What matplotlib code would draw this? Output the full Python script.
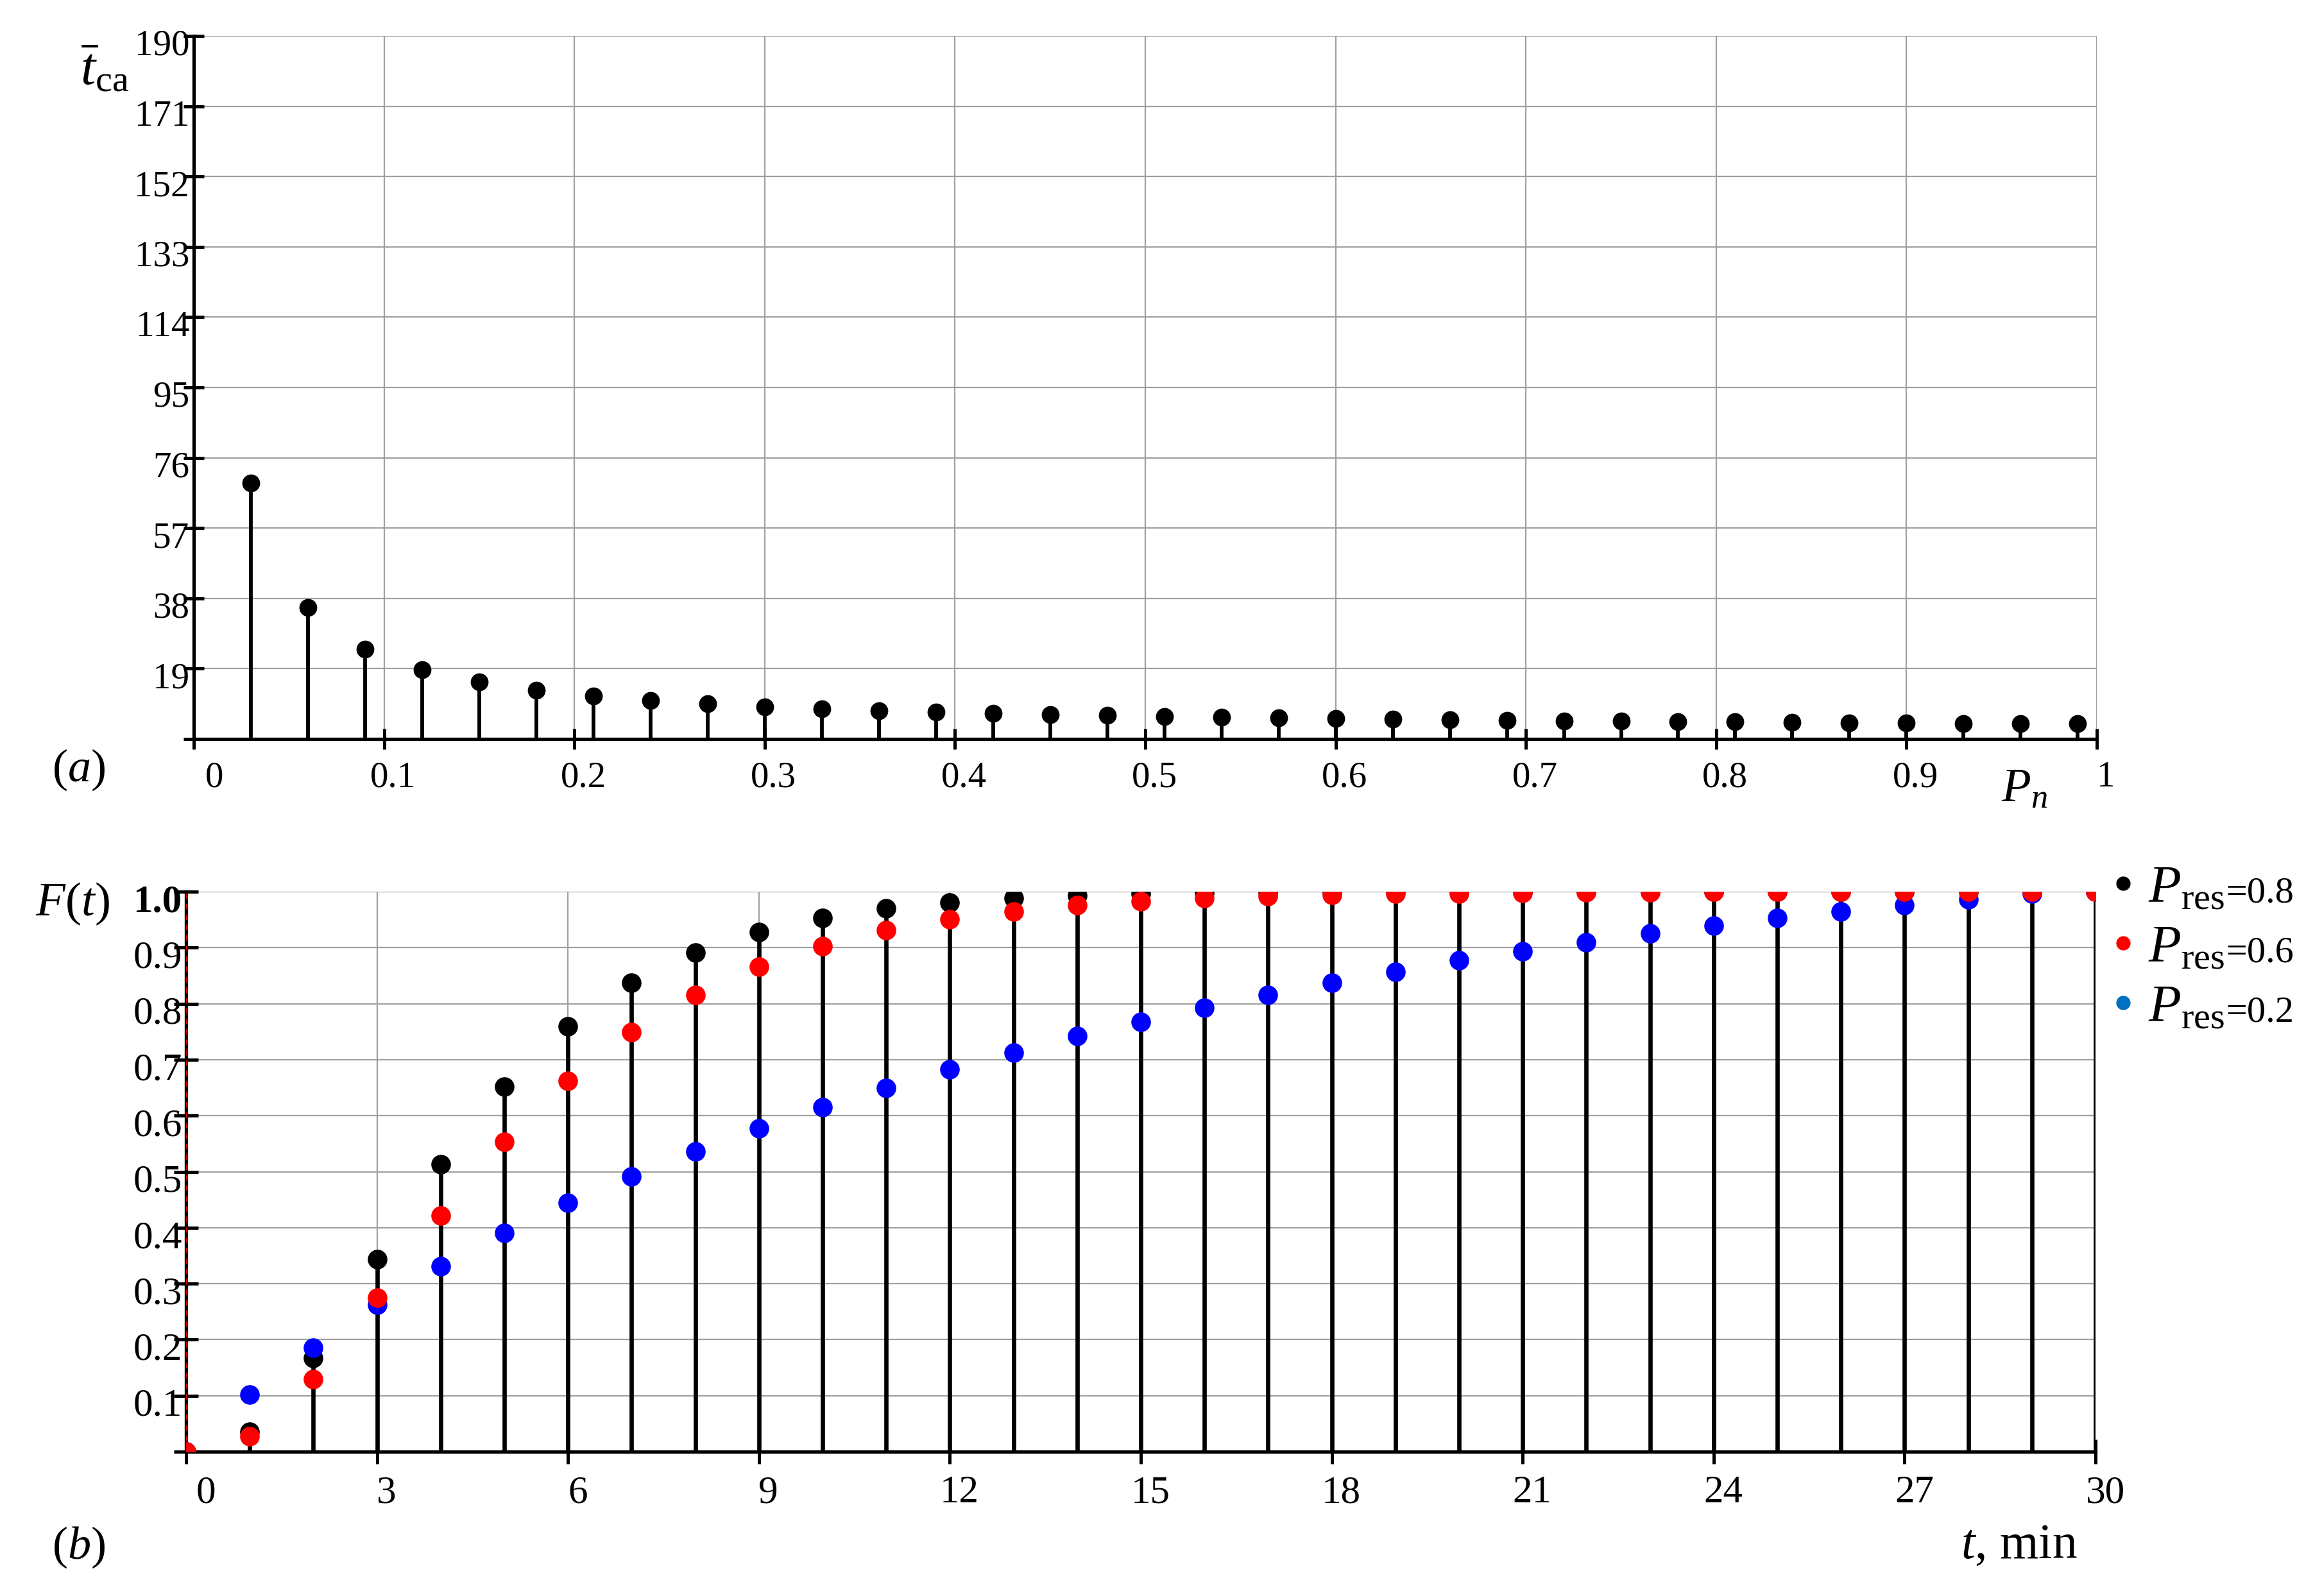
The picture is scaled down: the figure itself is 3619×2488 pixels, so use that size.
import matplotlib
matplotlib.use('Agg')
import matplotlib.pyplot as plt
import matplotlib.transforms as mtransforms
from matplotlib.lines import Line2D

plt.rcParams['font.family'] = ['Liberation Serif', 'DejaVu Serif']
plt.rcParams['mathtext.fontset'] = 'custom'
plt.rcParams['mathtext.rm'] = 'Liberation Serif'
plt.rcParams['mathtext.it'] = 'Liberation Serif:italic'
plt.rcParams['mathtext.bf'] = 'Liberation Serif:bold'

# ---------------- data ----------------
# panel (a)
P_n = [0.03, 0.06, 0.09, 0.12, 0.15, 0.18, 0.21, 0.24, 0.27, 0.30, 0.33,
       0.36, 0.39, 0.42, 0.45, 0.48, 0.51, 0.54, 0.57, 0.60, 0.63, 0.66,
       0.69, 0.72, 0.75, 0.78, 0.81, 0.84, 0.87, 0.90, 0.93, 0.96, 0.99]
t_ca = [69.1, 35.6, 24.3, 18.8, 15.4, 13.2, 11.6, 10.4, 9.5, 8.7, 8.2,
        7.7, 7.3, 6.9, 6.6, 6.4, 6.1, 5.9, 5.7, 5.5, 5.3, 5.2,
        5.0, 4.9, 4.8, 4.7, 4.6, 4.5, 4.4, 4.3, 4.2, 4.1, 4.1]
yticks_a = [0, 19, 38, 57, 76, 95, 114, 133, 152, 171, 190]
xticks_a = [0, 0.1, 0.2, 0.3, 0.4, 0.5, 0.6, 0.7, 0.8, 0.9, 1.0]
xlabels_a = ['0', '0.1', '0.2', '0.3', '0.4', '0.5', '0.6', '0.7', '0.8', '0.9', '1']

# panel (b)
t_min = [0, 1, 2, 3, 4, 5, 6, 7, 8, 9, 10, 11, 12, 13, 14, 15, 16, 17, 18, 19,
         20, 21, 22, 23, 24, 25, 26, 27, 28, 29, 30]
F_08 = [0.0, 0.036, 0.167, 0.344, 0.513, 0.652, 0.759, 0.837, 0.891, 0.928,
        0.953, 0.970, 0.981, 0.988, 0.993, 0.997, 0.998, 0.999, 1.0, 1.0,
        1.0, 1.0, 1.0, 1.0, 1.0, 1.0, 1.0, 1.0, 1.0, 1.0, 1.0]
F_06 = [0.0, 0.028, 0.129, 0.275, 0.421, 0.553, 0.662, 0.749, 0.816, 0.866,
        0.903, 0.931, 0.951, 0.965, 0.976, 0.983, 0.988, 0.992, 0.994, 0.996,
        0.997, 0.998, 0.999, 0.999, 1.0, 1.0, 1.0, 1.0, 1.0, 1.0, 1.0]
F_02 = [0.0, 0.102, 0.186, 0.262, 0.331, 0.391, 0.444, 0.491, 0.536, 0.577,
        0.615, 0.650, 0.683, 0.713, 0.742, 0.768, 0.793, 0.816, 0.837, 0.857,
        0.877, 0.894, 0.910, 0.925, 0.939, 0.953, 0.965, 0.976, 0.986, 0.996, 1.0]
xticks_b = [0, 3, 6, 9, 12, 15, 18, 21, 24, 27, 30]
yticks_b = [0, 0.1, 0.2, 0.3, 0.4, 0.5, 0.6, 0.7, 0.8, 0.9, 1.0]
ylabels_b = ['', '0.1', '0.2', '0.3', '0.4', '0.5', '0.6', '0.7', '0.8', '0.9', '1.0']
legend_symbol = r'$P_{\mathrm{res}}$'
legend_values = ['=0.8', '=0.6', '=0.2']

# ---------------- figure ----------------
W, H = 3619, 2488
fig = plt.figure(figsize=(W / 100, H / 100), dpi=100)

def rect(x0, ytop, x1, ybot):
    return [x0 / W, 1 - ybot / H, (x1 - x0) / W, (ybot - ytop) / H]

ax1 = fig.add_axes(rect(302, 56, 3268, 1152))
ax2 = fig.add_axes(rect(290, 1390, 3266, 2263))

GRID = '#a0a0a0'

def style(ax, ticklen, tickfs):
    for s in ('top', 'right'):
        ax.spines[s].set_visible(False)
    for s in ('left', 'bottom'):
        ax.spines[s].set_linewidth(3.8)
        ax.spines[s].set_color('black')
    ax.set_axisbelow(True)
    ax.grid(True, color=GRID, lw=1.6)
    ax.tick_params(axis='both', direction='inout', length=ticklen, width=3.6,
                   color='black', labelsize=tickfs)

def px(dx, dy):
    return mtransforms.ScaledTranslation(dx / 100, dy / 100, fig.dpi_scale_trans)

# ---- panel (a) ----
style(ax1, 23, 41)
ax1.vlines(P_n, 0, t_ca, color='black', lw=4.2, zorder=3)
ax1.plot(P_n, t_ca, 'o', color='black', ms=19, zorder=4)
ax1.set_xlim(0, 1)
ax1.set_ylim(0, 190)
ax1.set_xticks(xticks_a)
ax1.set_xticklabels(xlabels_a)
ax1.set_yticks(yticks_a)
ax1.set_yticklabels([''] + [str(v) for v in yticks_a[1:]])
ax1.tick_params(axis='x', pad=13)
ax1.tick_params(axis='y', pad=-6.5)
for i, lbl in enumerate(ax1.get_xticklabels()):
    lbl.set_transform(lbl.get_transform() + px(32 if i == 0 else 14, 0))
for lbl in ax1.get_yticklabels():
    lbl.set_transform(lbl.get_transform() + px(0, -10))

# ---- panel (b) ----
style(ax2, 27, 44)
ax2.vlines(t_min, 0, F_08, color='black', lw=4.8, zorder=3)
ax2.plot(t_min, F_08, 'o', color='black', ms=21, zorder=4)
ax2.plot(t_min, F_02, 'o', color='#0000ff', ms=21, zorder=5)
ax2.plot(t_min, F_06, 'o', color='#ff0000', ms=21, zorder=6)
ax2.axvline(0, color='red', ls=(0, (5, 4)), lw=1.3, zorder=7)
ax2.set_xlim(0, 30)
ax2.set_ylim(0, 1)
ax2.set_xticks(xticks_b)
ax2.set_xticklabels([str(v) for v in xticks_b])
ax2.set_yticks(yticks_b)
ax2.set_yticklabels(ylabels_b)
ax2.tick_params(axis='x', pad=13)
ax2.tick_params(axis='y', pad=-9)
for i, lbl in enumerate(ax2.get_xticklabels()):
    lbl.set_transform(lbl.get_transform() + px(31 if i == 0 else 15, 0))
for lbl in ax2.get_yticklabels():
    lbl.set_transform(lbl.get_transform() + px(0, -10))
ax2.get_yticklabels()[-1].set_fontweight('bold')

handles = [Line2D([], [], ls='none', marker='o', ms=15, color=c)
           for c in ('black', '#ff0000', '#0070c0')]
leg = ax2.legend(handles, [legend_symbol] * 3, loc='upper left',
                 bbox_to_anchor=(3290 / W, 1 - 1348 / H), bbox_transform=fig.transFigure,
                 frameon=False, fontsize=60, handlelength=0.45, handletextpad=0.25,
                 labelspacing=0.2, borderpad=0, borderaxespad=0)

# ---- axis labels / panel tags ----
fig.text(163 / W, 1 - 112 / H, r'$\bar{t}_{\mathrm{ca}}$', fontsize=60,
         ha='center', va='center')
fig.text(123 / W, 1 - 1200 / H, r'$(a)$', fontsize=52, ha='center', va='center')
fig.text(3155 / W, 1 - 1232 / H, r'$P_n$', fontsize=54, ha='center', va='center')
fig.text(113 / W, 1 - 1409 / H, r'$F(t)$', fontsize=54, ha='center', va='center')
fig.text(123 / W, 1 - 2412 / H, r'$(b)$', fontsize=52, ha='center', va='center')
fig.text(3147 / W, 1 - 2410 / H, r'$t$, min', fontsize=56, ha='center', va='center')

# values after the legend symbols, baseline aligned, smaller font
fig.canvas.draw()
for txt, val in zip(leg.get_texts(), legend_values):
    bb = txt.get_window_extent()
    ybase = txt.get_transform().transform(txt.get_position())[1]
    fig.text(bb.x1 / W + 0.0003, ybase / H, val, fontsize=42, ha='left', va='baseline')

fig.savefig('out.png', dpi=100)
